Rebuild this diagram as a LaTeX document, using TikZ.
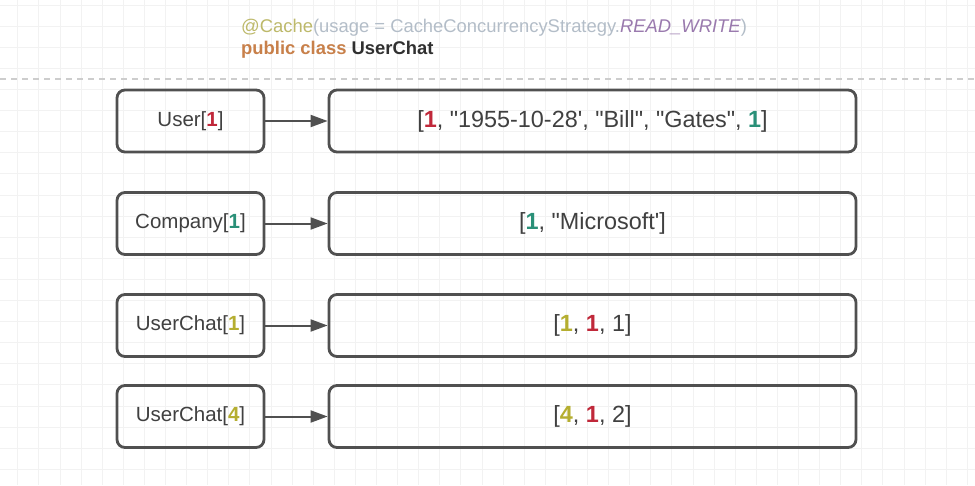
\documentclass[tikz,border=0pt]{standalone}
\usepackage{fontspec}
\setmainfont{Liberation Sans}[Ligatures=TeXOff]
\usetikzlibrary{arrows.meta}
\definecolor{boxc}{HTML}{505050}
\definecolor{txtc}{HTML}{404040}
\definecolor{gridc}{HTML}{F2F2F2}
\definecolor{dashc}{HTML}{CDCDCD}
\definecolor{redn}{HTML}{C0283A}
\definecolor{greenn}{HTML}{2A9078}
\definecolor{yelln}{HTML}{B5AE30}
\definecolor{annc}{HTML}{BDB96A}
\definecolor{paramc}{HTML}{B3BDC8}
\definecolor{enumc}{HTML}{9A7AAE}
\definecolor{kwc}{HTML}{C8804A}
\definecolor{clsc}{HTML}{303030}
\tikzset{
  keybox/.style={draw=boxc, line width=2.8pt, rounded corners=8pt, minimum width=147pt, minimum height=62pt, inner sep=0pt, text=txtc, font=\fontsize{20.5}{24}\selectfont},
  valbox/.style={draw=boxc, line width=2.8pt, rounded corners=8pt, minimum width=527pt, minimum height=62pt, inner sep=0pt, text=txtc, font=\fontsize{23.4}{27}\selectfont},
  link/.style={draw=boxc, line width=2pt, -{Triangle[length=17pt,width=12pt]}},
  hdr/.style={anchor=base west, inner sep=0pt, font=\fontsize{18.4}{22}\selectfont}
}
\newcommand{\rn}[1]{\textcolor{redn}{\textbf{#1}}}
\newcommand{\gn}[1]{\textcolor{greenn}{\textbf{#1}}}
\newcommand{\yn}[1]{\textcolor{yelln}{\textbf{#1}}}
\begin{document}
\begin{tikzpicture}[x=1pt,y=-1pt]
\useasboundingbox (0,0) rectangle (975,485);
\fill[white] (0,0) rectangle (975,485);
\foreach \i in {0,...,46} \draw[gridc, line width=0.8pt] (17.7+21.1*\i,0) -- (17.7+21.1*\i,485);
\foreach \i in {0,...,22} \draw[gridc, line width=0.8pt] (0,5+21.1*\i) -- (975,5+21.1*\i);
\coordinate (dl) at (0,79);
\coordinate (dr) at (975,79);
\draw[dashc, line width=1.5pt, dash pattern=on 6pt off 5pt] (dl) -- (dr);
\node[hdr] (h1) at (241,32) {\textcolor{annc}{@Cache}\textcolor{paramc}{(usage = CacheConcurrencyStrategy.}\textcolor{enumc}{\textit{READ\_WRITE}}\textcolor{paramc}{)}};
\node[hdr] (h2) at (241,54) {\textbf{\textcolor{kwc}{public class} \textcolor{clsc}{UserChat}}};

\node[keybox] (k1) at (190.5,121) {User[\rn{1}]};
\node[keybox] (k2) at (190.5,223.5) {Company[\gn{1}]};
\node[keybox] (k3) at (190.5,325.5) {UserChat[\yn{1}]};
\node[keybox] (k4) at (190.5,416.5) {UserChat[\yn{4}]};

\node[valbox] (v1) at (592.5,121) {[\rn{1}, "1955-10-28', "Bill", "Gates", \gn{1}]};
\node[valbox] (v2) at (592.5,223.5) {[\gn{1}, "Microsoft']};
\node[valbox] (v3) at (592.5,325.5) {[\yn{1}, \rn{1}, 1]};
\node[valbox] (v4) at (592.5,416.5) {[\yn{4}, \rn{1}, 2]};

\draw[link] (k1) -- (v1);
\draw[link] (k2) -- (v2);
\draw[link] (k3) -- (v3);
\draw[link] (k4) -- (v4);
\end{tikzpicture}
\end{document}
